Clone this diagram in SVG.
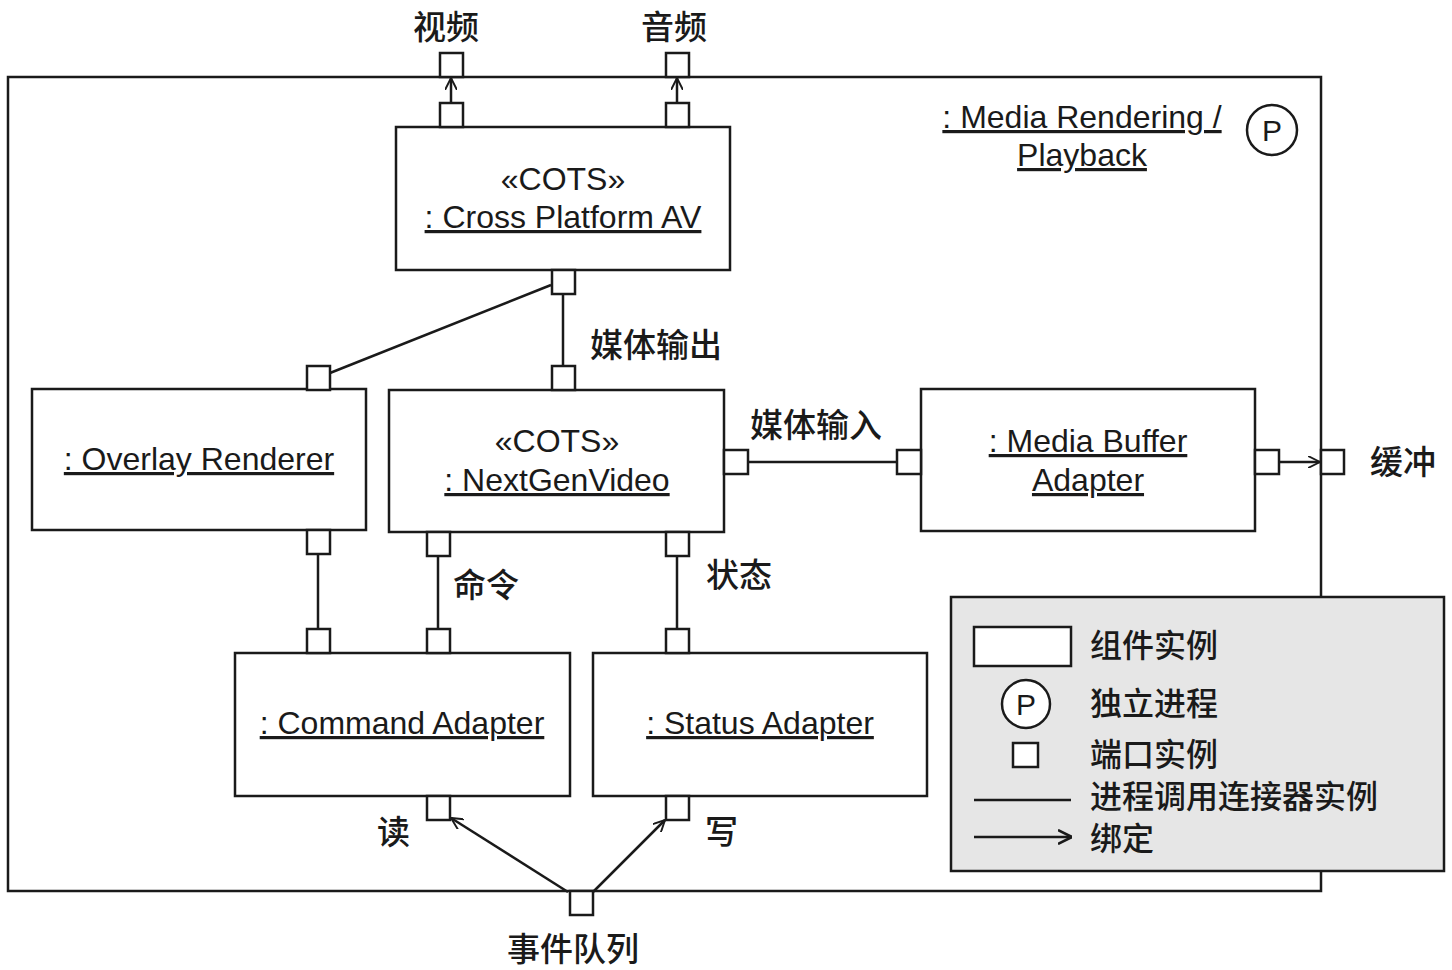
<svg xmlns="http://www.w3.org/2000/svg" width="1452" height="970" viewBox="0 0 1452 970">
<style>
.box{fill:#fff;stroke:#1a1a1a;stroke-width:2.5}
.port{fill:#fff;stroke:#1a1a1a;stroke-width:2.5}
.ln{fill:none;stroke:#1a1a1a;stroke-width:2.5}
.en{font-family:"Liberation Sans",Arial,sans-serif;font-size:32px;fill:#1a1a1a;text-anchor:middle}
.u{text-decoration:underline}
.cn{font-family:"Noto Sans CJK SC",sans-serif;font-size:33px;fill:#1a1a1a;font-weight:500}
.lg{font-size:32px}
</style>
<defs>
<marker id="arr" markerWidth="12" markerHeight="12" refX="10" refY="5" orient="auto" markerUnits="userSpaceOnUse" viewBox="0 0 10 10">
<path d="M0,0 L10,5 L0,10" fill="none" stroke="#1a1a1a" stroke-width="1.6"/>
</marker>
<marker id="arrL" markerWidth="14" markerHeight="16" refX="10" refY="5" orient="auto" markerUnits="userSpaceOnUse" viewBox="0 0 10 10">
<path d="M0,0 L10,5 L0,10" fill="none" stroke="#1a1a1a" stroke-width="1.8"/>
</marker>
</defs>
<rect width="1452" height="970" fill="#fff"/>

<g id="frame">
<rect class="box" x="8" y="77" width="1313" height="814" fill="none"/>
<text class="en u" x="1082" y="128">: Media Rendering /</text>
<text class="en u" x="1082" y="166">Playback</text>
<circle cx="1272" cy="130" r="25" fill="#fff" stroke="#1a1a1a" stroke-width="2.5"/>
<text class="en" x="1272" y="141" style="font-size:30px">P</text>
</g>

<g id="connectors">
<line class="ln" x1="451" y1="103" x2="451" y2="78" marker-end="url(#arr)"/>
<line class="ln" x1="677" y1="103" x2="677" y2="78" marker-end="url(#arr)"/>
<line class="ln" x1="563" y1="294" x2="563" y2="366"/>
<line class="ln" x1="330" y1="373" x2="551" y2="285"/>
<line class="ln" x1="748" y1="462" x2="897" y2="462"/>
<line class="ln" x1="1279" y1="462" x2="1320" y2="462" marker-end="url(#arr)"/>
<line class="ln" x1="318" y1="554" x2="318" y2="629"/>
<line class="ln" x1="438" y1="556" x2="438" y2="629"/>
<line class="ln" x1="677" y1="556" x2="677" y2="629"/>
<line class="ln" x1="568" y1="892" x2="451" y2="818" marker-end="url(#arr)"/>
<line class="ln" x1="593" y1="892" x2="665" y2="820" marker-end="url(#arr)"/>
</g>

<g id="port-video"><rect class="port" x="440" y="53" width="23" height="24"/><text class="cn" x="413" y="39">视频</text></g>
<g id="port-audio"><rect class="port" x="666" y="53" width="23" height="24"/><text class="cn" x="641" y="39">音频</text></g>
<g id="port-buffer"><rect class="port" x="1321" y="450" width="23" height="24"/><text class="cn" x="1370" y="474">缓冲</text></g>
<g id="port-eventqueue"><rect class="port" x="570" y="891" width="23" height="24"/><text class="cn" x="507" y="961">事件队列</text></g>

<g id="cross-platform-av">
<rect class="box" x="396" y="127" width="334" height="143"/>
<rect class="port" x="440" y="103" width="23" height="24"/>
<rect class="port" x="666" y="103" width="23" height="24"/>
<rect class="port" x="552" y="270" width="23" height="24"/>
<text class="en" x="563" y="190">«COTS»</text>
<text class="en u" x="563" y="228">: Cross Platform AV</text>
</g>

<g id="overlay-renderer">
<rect class="box" x="32" y="389" width="334" height="141"/>
<rect class="port" x="307" y="366" width="23" height="24"/>
<rect class="port" x="307" y="530" width="23" height="24"/>
<text class="en u" x="199" y="470">: Overlay Renderer</text>
</g>

<g id="nextgenvideo">
<rect class="box" x="389" y="390" width="335" height="142"/>
<rect class="port" x="552" y="366" width="23" height="24"/>
<rect class="port" x="724" y="450" width="24" height="24"/>
<rect class="port" x="427" y="532" width="23" height="24"/>
<rect class="port" x="666" y="532" width="23" height="24"/>
<text class="en" x="557" y="452">«COTS»</text>
<text class="en u" x="557" y="491">: NextGenVideo</text>
<text class="cn" x="590" y="357">媒体输出</text>
<text class="cn" x="750" y="437">媒体输入</text>
<text class="cn" x="453" y="597">命令</text>
<text class="cn" x="706" y="587">状态</text>
</g>

<g id="media-buffer-adapter">
<rect class="box" x="921" y="389" width="334" height="142"/>
<rect class="port" x="897" y="450" width="24" height="24"/>
<rect class="port" x="1255" y="450" width="24" height="24"/>
<text class="en u" x="1088" y="452">: Media Buffer</text>
<text class="en u" x="1088" y="491">Adapter</text>
</g>

<g id="command-adapter">
<rect class="box" x="235" y="653" width="335" height="143"/>
<rect class="port" x="307" y="629" width="23" height="24"/>
<rect class="port" x="427" y="629" width="23" height="24"/>
<rect class="port" x="427" y="796" width="23" height="24"/>
<text class="en u" x="402" y="734">: Command Adapter</text>
<text class="cn" x="377" y="844">读</text>
</g>

<g id="status-adapter">
<rect class="box" x="593" y="653" width="334" height="143"/>
<rect class="port" x="666" y="629" width="23" height="24"/>
<rect class="port" x="666" y="796" width="23" height="24"/>
<text class="en u" x="760" y="734">: Status Adapter</text>
<text class="cn" x="705" y="844">写</text>
</g>

<g id="legend">
<rect x="951" y="597" width="493" height="274" fill="#e6e6e6" stroke="#1a1a1a" stroke-width="2.5"/>
<rect class="box" x="974" y="627" width="97" height="39"/>
<text class="cn lg" x="1090" y="657">组件实例</text>
<circle cx="1026" cy="704" r="24" fill="#fff" stroke="#1a1a1a" stroke-width="2.5"/>
<text class="en" x="1026" y="715" style="font-size:30px">P</text>
<text class="cn lg" x="1090" y="715">独立进程</text>
<rect class="port" x="1013" y="743" width="25" height="24"/>
<text class="cn lg" x="1090" y="766">端口实例</text>
<line class="ln" x1="974" y1="800" x2="1071" y2="800"/>
<text class="cn lg" x="1090" y="808">进程调用连接器实例</text>
<line class="ln" x1="974" y1="837" x2="1072" y2="837" marker-end="url(#arrL)"/>
<text class="cn lg" x="1090" y="850">绑定</text>
</g>
</svg>
